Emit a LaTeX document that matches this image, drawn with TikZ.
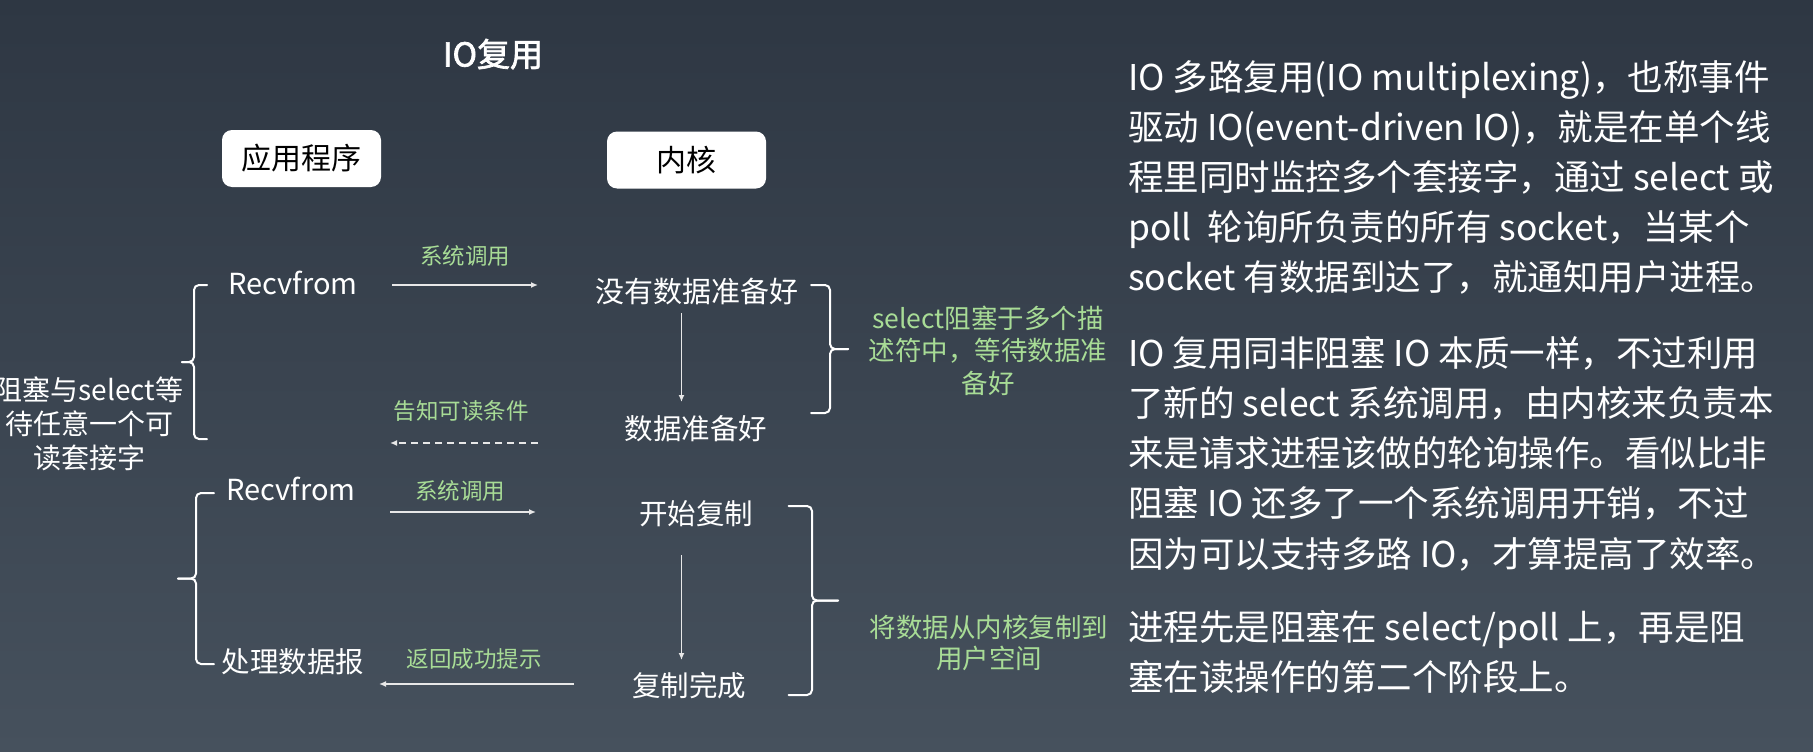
\documentclass[tikz,border=0pt]{standalone}
\usepackage{fontspec}
\setmainfont{Noto Sans CJK SC}
\newfontfamily\headfont{Noto Sans CJK SC}[FakeBold=2]
\usepackage{tikz}
\usetikzlibrary{arrows.meta}
\definecolor{bgtop}{RGB}{46,55,67}
\definecolor{bgbot}{RGB}{70,81,93}
\definecolor{lblgreen}{RGB}{168,220,150}
\definecolor{linegray}{RGB}{232,232,232}
\newcommand{\fsize}[2]{\fontsize{#1}{#2}\selectfont}
\newcommand{\sidebrace}[5]{ \draw[bracestyle] ( #1 , #4 ) -- ( #2 , #4 ) -- ( #2 , {(#4+#5)/2} ) -- ( #3 , {(#4+#5)/2} );
  \draw[bracestyle] ( #1 , #5 ) -- ( #2 , #5 ) -- ( #2 , {(#4+#5)/2} ) -- ( #3 , {(#4+#5)/2} );}
\tikzset{
  box/.style={fill=white, rounded corners=10pt, minimum width=159pt, minimum height=57pt, inner sep=0pt, text=black, node font=\fsize{30}{36}},
  txt/.style={text=white, inner sep=0pt, text height=0.75em, text depth=0.05em},
  lbl/.style={text=lblgreen, inner sep=0pt, node font=\fsize{22.5}{27}, text height=0.75em, text depth=0.05em},
  note/.style={text=lblgreen, inner sep=0pt, align=center, node font=\fsize{26.5}{32.5}},
  para/.style={text=white, inner sep=0pt, align=left, anchor=west, node font=\fsize{35.5}{50.2}},
  flow/.style={draw=linegray, line width=1.5pt, -{Latex[length=7pt,width=6pt]}},
  bracestyle/.style={draw=white, line width=2pt, rounded corners=5pt, line cap=round}
}
\begin{document}
\begin{tikzpicture}[x=1pt,y=-1pt]
  \useasboundingbox (0,0) rectangle (1813,752);
  \shade[top color=bgtop,bottom color=bgbot] (0,0) rectangle (1813,752);

  % title and headers
  \node[txt,node font=\headfont\fsize{33}{40}] (title) at (493,55) {IO复用};
  \node[box] (app) at (301.5,158.5) {应用程序};
  \node[box] (kern) at (686.5,160) {内核};

  % stage one
  \node[txt,node font=\fsize{29}{35}] (recv1) at (293,284) {Recvfrom};
  \node[txt,node font=\fsize{29}{35}] (nodata) at (696.5,292) {没有数据准备好};
  \node[txt,node font=\fsize{28.5}{35}] (ready) at (696,430) {数据准备好};
  \coordinate (call1s) at (392,285);
  \coordinate (call1e) at (538,285);
  \draw[flow] (call1s) -- (call1e);
  \node[lbl] (call1) at (465,257) {系统调用};
  \coordinate (wait1s) at (681.5,313);
  \coordinate (wait1e) at (681.5,402);
  \draw[flow] (wait1s) -- (wait1e);
  \coordinate (tell1s) at (538,443);
  \coordinate (tell1e) at (390,443);
  \draw[flow,dash pattern=on 7pt off 5pt] (tell1s) -- (tell1e);
  \node[lbl] (tell1) at (461,412) {告知可读条件};
  \sidebrace{811}{830}{848}{285}{413}
  \node[note] (selnote) at (988,350.5) {select阻塞于多个描\\述符中，等待数据准\\备好};
  \sidebrace{207}{194}{182}{285}{439}
  \node[text=white,inner sep=0pt,align=center,node font=\fsize{28}{34}] (waitnote) at (89,424) {阻塞与select等\\待任意一个可\\读套接字};

  % stage two
  \node[txt,node font=\fsize{29}{35}] (recv2) at (291,490) {Recvfrom};
  \node[txt,node font=\fsize{28.5}{35}] (copy) at (696,515) {开始复制};
  \node[txt,node font=\fsize{28.5}{35}] (done) at (689,687) {复制完成};
  \node[txt,node font=\fsize{28.5}{35}] (handle) at (293,663) {处理数据报};
  \coordinate (call2s) at (390,512);
  \coordinate (call2e) at (536,512);
  \draw[flow] (call2s) -- (call2e);
  \node[lbl] (call2) at (460,492) {系统调用};
  \coordinate (copys) at (681.5,555);
  \coordinate (copye) at (681.5,660);
  \draw[flow] (copys) -- (copye);
  \coordinate (rets) at (574,684);
  \coordinate (rete) at (379,684);
  \draw[flow] (rets) -- (rete);
  \node[lbl] (ret) at (474,660) {返回成功提示};
  \sidebrace{788.5}{812}{838}{506}{695}
  \node[note,node font=\fsize{26.5}{31}] (copynote) at (989,642.5) {将数据从内核复制到\\用户空间};
  \sidebrace{214}{196}{178}{493}{664}

  % explanation text
  \node[para] (para1) at (1128,177.5) {IO 多路复用(IO multiplexing)，也称事件\\驱动 IO(event-driven IO)，就是在单个线\\程里同时监控多个套接字，通过 select 或\\poll\ \ 轮询所负责的所有 socket，当某个\\socket 有数据到达了，就通知用户进程。};
  \node[para] (para2) at (1128,453.5) {IO 复用同非阻塞 IO 本质一样，不过利用\\了新的 select 系统调用，由内核来负责本\\来是请求进程该做的轮询操作。看似比非\\阻塞 IO 还多了一个系统调用开销，不过\\因为可以支持多路 IO，才算提高了效率。};
  \node[para] (para3) at (1128,652) {进程先是阻塞在 select/poll 上，再是阻\\塞在读操作的第二个阶段上。};
\end{tikzpicture}
\end{document}
